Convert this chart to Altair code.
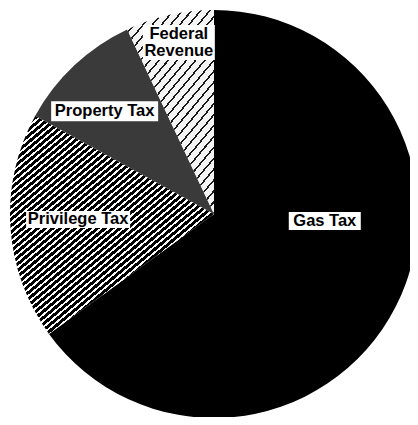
import math
import altair as alt
import pandas as pd

# ---- data ----
categories = ["Gas Tax", "Privilege Tax", "Property Tax", "Federal Revenue"]
shares = [65, 18, 10, 7]
labels = ["Gas Tax", "Privilege Tax", "Property Tax", "Federal\nRevenue"]

TOTAL = sum(shares)

# ---- layout / style ----
W, H = 402, 409
CX, CY = 206, 206
R = 204
FONT = "Liberation Sans"
FS = 16.5
LH = 17

# label placement: (fraction of slice angle, radius px, box width, box height)
PLACE = {
    "Gas Tax": (0.40, 111, 72, 18),
    "Privilege Tax": (0.52, 136, 104, 17),
    "Property Tax": (0.40, 150, 107, 20),
    "Federal Revenue": (0.54, 175, 72, 35),
}


def arc_bbox(a0, a1, r):
    pts = [(0.0, 0.0), (r * math.sin(a0), -r * math.cos(a0)), (r * math.sin(a1), -r * math.cos(a1))]
    for k in range(5):
        a = k * math.pi / 2
        if a0 <= a <= a1:
            pts.append((r * math.sin(a), -r * math.cos(a)))
    xs = [p[0] for p in pts]
    ys = [p[1] for p in pts]
    return max(xs) - min(xs), max(ys) - min(ys)


def stripes(w, h, alpha_deg, period, frac, c_line, c_bg):
    al = math.radians(alpha_deg)
    a0 = w * math.sin(al)
    b0 = h * math.cos(al)
    k = (a0 + b0) / (a0 * a0 + b0 * b0)
    n = (a0 + b0) / period
    stops = []
    i = 0
    while i / n < 1:
        s = i / n
        m = min((i + frac) / n, 1.0)
        e = min((i + 1) / n, 1.0)
        stops += [
            {"offset": s, "color": c_line},
            {"offset": m, "color": c_line},
            {"offset": m, "color": c_bg},
            {"offset": e, "color": c_bg},
        ]
        i += 1
    return {"gradient": "linear", "x1": 0, "y1": 0, "x2": k * a0, "y2": k * b0, "stops": stops}


# slice angles (derived from the values) for the hatch patterns
angles = []
acc = 0
for s in shares:
    a0 = acc / TOTAL * 2 * math.pi
    acc += s
    a1 = acc / TOTAL * 2 * math.pi
    angles.append((a0, a1))

bb = [arc_bbox(a0, a1, R) for a0, a1 in angles]
fills = [
    "#000000",
    stripes(bb[1][0], bb[1][1], 40, 4.8, 0.38, "#ffffff", "#000000"),
    "#3a3a3a",
    stripes(bb[3][0], bb[3][1], 50, 7.0, 0.22, "#1a1a1a", "#f4f4f4"),
]

df = pd.DataFrame({
    "category": categories,
    "share": shares,
    "label": labels,
    "order": list(range(len(categories))),
})

base = alt.Chart(df).transform_window(
    cum="sum(share)", sort=[alt.SortField("order")]
).transform_calculate(start="datum.cum - datum.share")

theta = alt.Theta("start:Q", scale=alt.Scale(domain=[0, TOTAL], range=[0, 2 * math.pi]), stack=False)

layers = []
for cat, fill in zip(categories, fills):
    layers.append(
        base.transform_filter(alt.datum.category == cat)
        .mark_arc(radius=R, fill=fill)
        .encode(theta=theta, theta2="cum:Q", x=alt.value(CX), y=alt.value(CY))
    )

for cat, lab_text in zip(categories, labels):
    f, rl, bw, bh = PLACE[cat]
    n_lines = lab_text.count("\n") + 1
    lab = (
        base.transform_filter(alt.datum.category == cat)
        .transform_calculate(ang=f"(datum.start + {f}*datum.share)/{TOTAL}*2*PI")
        .transform_calculate(lx=f"{CX} + {rl}*sin(datum.ang)", ly=f"{CY} - {rl}*cos(datum.ang)")
        .transform_calculate(
            x0=f"datum.lx - {bw / 2}", x1=f"datum.lx + {bw / 2}",
            y0=f"datum.ly - {bh / 2}", y1=f"datum.ly + {bh / 2}",
        )
    )
    box = lab.mark_rect(fill="white").encode(
        x=alt.X("x0:Q", scale=None, axis=None), x2="x1:Q",
        y=alt.Y("y0:Q", scale=None, axis=None), y2="y1:Q",
    )
    txt = lab.mark_text(
        font=FONT, fontSize=FS, fontWeight="bold", align="center", baseline="middle",
        lineBreak="\n", lineHeight=LH, color="black", dy=-(n_lines - 1) * LH / 2,
    ).encode(
        x=alt.X("lx:Q", scale=None, axis=None),
        y=alt.Y("ly:Q", scale=None, axis=None),
        text="label:N",
    )
    layers += [box, txt]

chart = alt.layer(*layers).properties(
    width=W, height=H, padding=0, autosize=alt.AutoSizeParams(type="none"),
    background="white",
).configure_view(stroke=None)

chart.save("out.html", embed_options={"renderer": "svg", "actions": False})
